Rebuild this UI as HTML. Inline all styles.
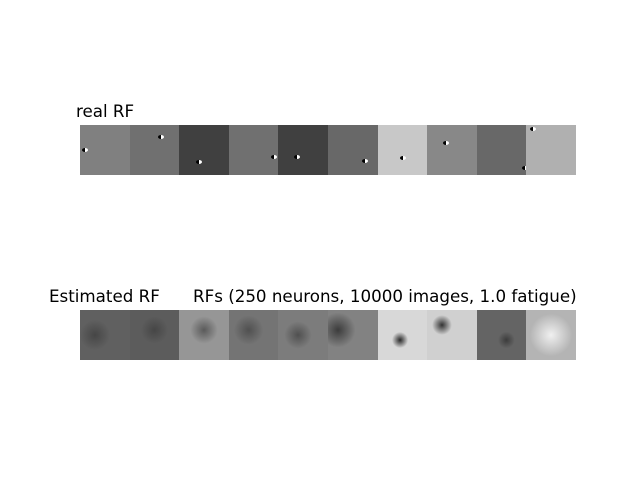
<!DOCTYPE html>
<html><head><meta charset="utf-8"><style>
body{margin:0;width:640px;height:480px;background:#fff;position:relative;overflow:hidden;font-family:"DejaVu Sans","Liberation Sans",sans-serif}
.t{position:absolute;font-size:16.7px;color:#000;white-space:nowrap}
.row{position:absolute;left:80px;width:496px;height:50px;display:flex}
.tile{position:relative;flex:1;overflow:hidden}
.dot{position:absolute;width:6px;height:4px;border-radius:50%;background:linear-gradient(90deg,#000 50%,#fff 50%)}
</style></head><body>
<div class="t" style="left:76px;top:101px">real RF</div>
<div class="row" id="real" style="top:125px"></div>
<div class="t" style="left:49px;top:286px">Estimated RF</div>
<div class="t" style="left:193px;top:286px">RFs (250 neurons, 10000 images, 1.0 fatigue)</div>
<div class="row" id="est" style="top:310px"></div>
<script>
const realGray=[128,112,64,112,64,104,200,136,104,176];
const dotX=[0.04,0.58,0.33,0.86,0.32,0.68,0.46,0.32,0.92,0.08];
const dotY=[0.46,0.2,0.7,0.6,0.6,0.68,0.62,0.32,0.82,0.04];
const estGray=[96,92,150,116,124,130,216,208,100,180];
const estSpotX=[0.3,0.5,0.5,0.4,0.4,0.2,0.45,0.3,0.6,0.5];
const estSpotY=[0.5,0.4,0.4,0.4,0.5,0.4,0.6,0.3,0.6,0.5];
const estSpot=[70,70,90,80,80,60,40,50,60,240];
const real=document.getElementById('real');
realGray.forEach((g,i)=>{
 const d=document.createElement('div');d.className='tile';
 
 
 d.style.background=`rgb(${g},${g},${g})`;
 const p=document.createElement('div');p.className='dot';
 
 
 p.style.left=(dotX[i]*100)+'%';p.style.top=(dotY[i]*100)+'%';
 d.appendChild(p);real.appendChild(d);
});
const est=document.getElementById('est');
estGray.forEach((g,i)=>{
 const d=document.createElement('div');d.className='tile';
 
 
 const s=estSpot[i];
 const r=i===9?60:(i>=6?20:35);
 d.style.background=`radial-gradient(circle at ${estSpotX[i]*100}% ${estSpotY[i]*100}%, rgb(${s},${s},${s}) 0%, rgb(${g},${g},${g}) ${r}%, rgb(${g},${g},${g}) 100%)`;
 est.appendChild(d);
});
</script>
</body></html>
